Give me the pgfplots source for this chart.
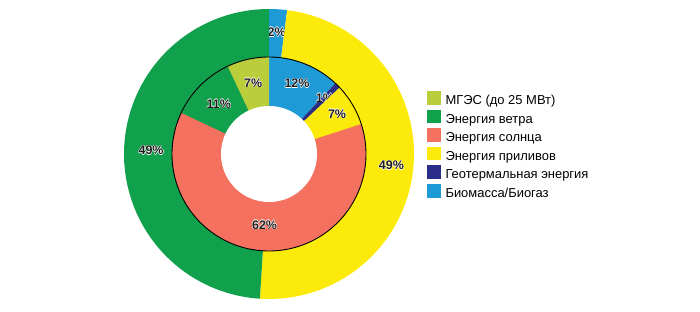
\documentclass[border=0pt]{standalone}
\usepackage{pgfplots}
\pgfplotsset{compat=1.18}
\usepackage{fontspec}
\setmainfont{Liberation Sans}
\definecolor{cHydro}{HTML}{BACD3B}
\definecolor{cWind}{HTML}{11A04B}
\definecolor{cSun}{HTML}{F4715F}
\definecolor{cTide}{HTML}{FCEB0A}
\definecolor{cGeo}{HTML}{2B2C88}
\definecolor{cBio}{HTML}{1E9AD6}
\definecolor{cTxt}{HTML}{1E1E1E}
% running cumulative percentage
\gdef\cum{0}
% #1 radius, #2 percent, #3 colour, #4 label radius
\newcommand\slice[4]{%
  \pgfmathsetmacro\aS{90-3.6*\cum}%
  \pgfmathsetmacro\aE{90-3.6*(\cum+#2)}%
  \pgfmathsetmacro\aM{(\aS+\aE)/2}%
  \pgfmathsetmacro\lx{#4*cos(\aM)}%
  \pgfmathsetmacro\ly{#4*sin(\aM)}%
  \pgfmathsetmacro\newcum{\cum+#2}%
  \xdef\cum{\newcum}%
  \edef\tmp{%
    \noexpand\addplot[fill=#3, draw=none, domain=\aE:\aS, samples=90, forget plot]
      ({#1*cos(x)},{#1*sin(x)}) -- (axis cs:0,0) -- cycle;%
  }\tmp
  \edef\tmp{%
    \noexpand\node[font=\noexpand\fontsize{12.5}{14}\noexpand\selectfont\noexpand\bfseries, text=cTxt, inner sep=0pt]
      at (axis cs:\lx,\ly) {\noexpand\halo{#2\noexpand\%}};%
  }\tmp
}
\newcommand\halo[1]{%
  \makebox[0pt][l]{\color{white}\hspace*{-0.55bp}#1}%
  \makebox[0pt][l]{\color{white}\hspace*{0.55bp}#1}%
  \makebox[0pt][l]{\color{white}\raisebox{0.55bp}{#1}}%
  \makebox[0pt][l]{\color{white}\raisebox{-0.55bp}{#1}}%
  #1}
\begin{document}
\begin{tikzpicture}
\begin{axis}[
  name=ax,
  x=1bp, y=1bp,
  xmin=-269, xmax=431, ymin=-157, ymax=154,
  hide axis, clip=false,
  legend style={
    at={(axis cs:158,63)}, anchor=north west,
    draw=none, fill=none, inner sep=0pt, outer sep=0pt,
    font=\fontsize{13}{15}\selectfont,
    row sep=1.6bp,
    nodes={inner sep=0pt, outer sep=0pt, text height=9.5bp, text depth=3.5bp},
    /tikz/every odd column/.style={column sep=5bp},
  },
  legend cell align=left,
  legend image code/.code={\fill[#1, draw=none] (0bp,-3.0bp) rectangle (13.5bp,10.5bp);},
]
% outer ring: Biomass, Tidal, Wind
\gdef\cum{0}
\slice{145}{2}{cBio}{122}
\slice{145}{49}{cTide}{123}
\slice{145}{49}{cWind}{118}
% inner ring: Biomass, Geothermal, Tidal, Solar, Wind, Small hydro
\gdef\cum{0}
\slice{97}{12}{cBio}{76}
\slice{97}{1}{cGeo}{79}
\slice{97}{7}{cTide}{79}
\slice{97}{62}{cSun}{71}
\slice{97}{11}{cWind}{71}
\slice{97}{7}{cHydro}{73}
% inner-ring outline and hole
\addplot[draw=black, line width=0.9bp, domain=0:360, samples=181, forget plot]
  ({97*cos(x)},{97*sin(x)}) -- cycle;
\addplot[fill=white, draw=none, domain=0:360, samples=181, forget plot]
  ({48*cos(x)},{48*sin(x)}) -- cycle;
% legend
\addlegendimage{fill=cHydro}\addlegendentry{МГЭС (до 25 МВт)}
\addlegendimage{fill=cWind}\addlegendentry{Энергия ветра}
\addlegendimage{fill=cSun}\addlegendentry{Энергия солнца}
\addlegendimage{fill=cTide}\addlegendentry{Энергия приливов}
\addlegendimage{fill=cGeo}\addlegendentry{Геотермальная энергия}
\addlegendimage{fill=cBio}\addlegendentry{Биомасса/Биогаз}
\end{axis}
\pgfresetboundingbox
\path (ax.south west) rectangle (ax.north east);
\end{tikzpicture}
\end{document}
